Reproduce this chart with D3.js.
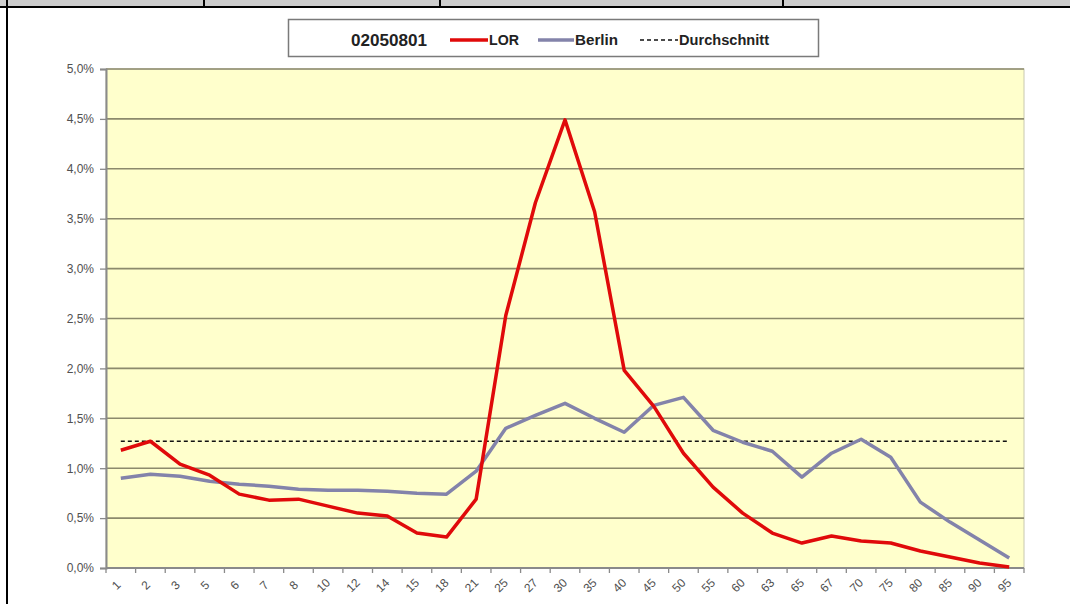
<!DOCTYPE html>
<html>
<head>
<meta charset="utf-8">
<script src="https://cdn.jsdelivr.net/npm/d3@7"></script>
<style>
  body { margin: 0; background: #fff; }
  svg { display: block; font-family: Arial, "Liberation Sans", sans-serif; }
</style>
</head>
<body>
<div id="chart"></div>
<script>
// age groups on the x axis
const categories = ["1","2","3","5","6","7","8","10","12","14","15","18","21","25","27","30","35","40","45","50","55","60","63","65","67","70","75","80","85","90","95"];
// share in percent
const lor = [1.18,1.27,1.04,0.93,0.74,0.68,0.69,0.62,0.55,0.52,0.35,0.31,0.69,2.53,3.66,4.49,3.57,1.98,1.62,1.15,0.81,0.55,0.35,0.25,0.32,0.27,0.25,0.17,0.11,0.05,0.01];
const berlin = [0.90,0.94,0.92,0.87,0.84,0.82,0.79,0.78,0.78,0.77,0.75,0.74,0.97,1.40,1.53,1.65,1.50,1.36,1.63,1.71,1.38,1.26,1.17,0.91,1.15,1.29,1.11,0.66,0.46,0.28,0.10];
const average = 1.27;
const yTicks = [0,0.5,1,1.5,2,2.5,3,3.5,4,4.5,5];
const legendTitle = "02050801";

const width = 1070, height = 604;
const plotLeft = 106, plotRight = 1024, plotTop = 69, plotBottom = 568;

let svg = d3.select("#chart").append("svg")
    .attr("width", width)
    .attr("height", height);

// table frame around the chart
svg.append("rect").attr("x", 0).attr("y", 0).attr("width", width).attr("height", 6).attr("fill", "#cccccc");
svg.append("line").attr("x1", 0).attr("x2", width).attr("y1", 7).attr("y2", 7).attr("stroke", "#000").attr("stroke-width", 2);
[204, 440, 783].forEach(function(x) {
    svg.append("line").attr("x1", x).attr("x2", x).attr("y1", 0).attr("y2", 7).attr("stroke", "#000").attr("stroke-width", 2);
});
svg.append("line").attr("x1", 7).attr("x2", 7).attr("y1", 0).attr("y2", height).attr("stroke", "#000").attr("stroke-width", 2);

let x = d3.scaleBand().domain(categories).range([plotLeft, plotRight]);
let y = d3.scaleLinear().domain([0, 5]).range([plotBottom, plotTop]);
let cx = function(d, i) { return x(categories[i]) + x.bandwidth() / 2; };

// plot area
svg.append("rect")
   .attr("x", plotLeft).attr("y", plotTop)
   .attr("width", plotRight - plotLeft).attr("height", plotBottom - plotTop)
   .attr("fill", "#ffffcc")
   .attr("stroke", "#c8c8b0");

// gridlines
svg.append("g")
   .selectAll("line")
   .data(yTicks.slice(1))
   .join("line")
   .attr("x1", plotLeft).attr("x2", plotRight)
   .attr("y1", d => y(d)).attr("y2", d => y(d))
   .attr("stroke", "#8c8a6c")
   .attr("stroke-width", 1.6);

// y axis
let yAxis = svg.append("g")
   .attr("transform", `translate(${plotLeft},0)`)
   .call(d3.axisLeft(y).tickValues(yTicks).tickSize(6).tickPadding(6)
        .tickFormat(d => d3.format(".1f")(d).replace(".", ",") + "%"));
yAxis.select(".domain").attr("stroke", "#8a8a8a").attr("stroke-width", 2);
yAxis.selectAll(".tick line").attr("stroke", "#8a8a8a").attr("stroke-width", 1.3);
yAxis.selectAll("text").attr("fill", "#505050").style("font-size", "12px").attr("font-family", "Arial, 'Liberation Sans', sans-serif");

// x axis, ticks between categories
let xAxis = svg.append("g")
   .attr("transform", `translate(0,${plotBottom})`);
xAxis.append("line")
   .attr("x1", plotLeft).attr("x2", plotRight)
   .attr("stroke", "#8a8a8a").attr("stroke-width", 2);
xAxis.selectAll("line.tick")
   .data(d3.range(categories.length + 1))
   .join("line")
   .attr("class", "tick")
   .attr("x1", i => plotLeft + i * x.step()).attr("x2", i => plotLeft + i * x.step())
   .attr("y1", 0).attr("y2", 5)
   .attr("stroke", "#8a8a8a").attr("stroke-width", 1.3);
xAxis.selectAll("text")
   .data(categories)
   .join("text")
   .attr("transform", d => `translate(${x(d) + x.bandwidth() / 2 - 4},18) rotate(-45)`)
   .attr("text-anchor", "middle")
   .attr("dominant-baseline", "middle")
   .attr("fill", "#505050")
   .style("font-size", "12px")
   .text(d => d);

// average line
svg.append("line")
   .attr("x1", x(categories[0]) + x.bandwidth() / 2)
   .attr("x2", x(categories[categories.length - 1]) + x.bandwidth() / 2)
   .attr("y1", y(average)).attr("y2", y(average))
   .attr("stroke", "#111")
   .attr("stroke-width", 1.6)
   .attr("stroke-dasharray", "4,3");

let line = d3.line().x(cx).y(d => y(d));

svg.append("path")
   .datum(berlin)
   .attr("d", line)
   .attr("fill", "none")
   .attr("stroke", "#8383aa")
   .attr("stroke-width", 3.5)
   .attr("stroke-linejoin", "round");

svg.append("path")
   .datum(lor)
   .attr("d", line)
   .attr("fill", "none")
   .attr("stroke", "#e00a0a")
   .attr("stroke-width", 3.5)
   .attr("stroke-linejoin", "round");

// legend
let legend = svg.append("g");
legend.append("rect")
   .attr("x", 288.5).attr("y", 19.5)
   .attr("width", 530).attr("height", 37)
   .attr("fill", "#fff")
   .attr("stroke", "#7a7a7a")
   .attr("stroke-width", 1.5);
legend.append("text")
   .attr("x", 351).attr("y", 46)
   .attr("font-weight", "bold")
   .style("font-size", "16px")
   .attr("textLength", 76).attr("lengthAdjust", "spacingAndGlyphs")
   .attr("fill", "#222")
   .text(legendTitle);

let items = [
    {name: "LOR", color: "#e00a0a", w: 3.5, dash: null, x1: 450, x2: 488, tl: 30},
    {name: "Berlin", color: "#8383aa", w: 3.5, dash: null, x1: 538, x2: 574, tl: 43},
    {name: "Durchschnitt", color: "#111", w: 1.6, dash: "4,3", x1: 640, x2: 678, tl: 90}
];
items.forEach(function(it) {
    legend.append("line")
       .attr("x1", it.x1).attr("x2", it.x2)
       .attr("y1", 40).attr("y2", 40)
       .attr("stroke", it.color)
       .attr("stroke-width", it.w)
       .attr("stroke-dasharray", it.dash);
    legend.append("text")
       .attr("x", it.x2 + 1).attr("y", 45)
       .style("font-size", "14px")
       .attr("font-weight", 600)
       .attr("textLength", it.tl).attr("lengthAdjust", "spacingAndGlyphs")
       .attr("fill", "#222")
       .text(it.name);
});
</script>
</body>
</html>
